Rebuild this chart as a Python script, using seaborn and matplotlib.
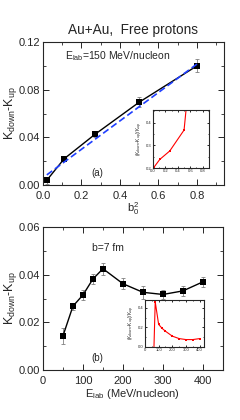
import numpy as np
import pandas as pd
import matplotlib
matplotlib.use("Agg")
import matplotlib.pyplot as plt
import seaborn as sns
from matplotlib.ticker import MultipleLocator, AutoMinorLocator, FormatStrFormatter

sns.set_style("ticks")
plt.rcParams['font.family'] = ['Liberation Sans', 'DejaVu Sans']
plt.rcParams['mathtext.default'] = 'regular'

# -------------------------------
# Data
# -------------------------------
# panel (a): kappa difference vs reduced impact parameter squared
b0sq = [0.02, 0.11, 0.27, 0.50, 0.80]
dk_a = [0.0040, 0.0220, 0.0425, 0.0695, 0.1000]
err_a = [0.0030, 0.0020, 0.0020, 0.0040, 0.0055]
fit_x = [0.02, 0.80]
fit_y = [0.0085, 0.1015]
# inset (a): relative difference
ratio_a = [0.205, 0.238, 0.275, 0.367, 1.20]

# panel (b): kappa difference vs beam energy at b = 7 fm
elab = [50, 75, 100, 125, 150, 200, 250, 300, 350, 400]
dk_b = [0.0143, 0.0268, 0.0315, 0.0382, 0.0425, 0.0362, 0.0326, 0.0317, 0.0332, 0.0370]
err_b = [0.0035, 0.0015, 0.0020, 0.0020, 0.0025, 0.0022, 0.0028, 0.0020, 0.0022, 0.0020]
# inset (b)
ratio_b = [-0.80, 0.46, 0.23, 0.19, 0.16, 0.11, 0.085, 0.075, 0.075, 0.085]

df_a = pd.DataFrame({"b": b0sq, "dk": dk_a, "err": err_a, "ratio": ratio_a})
df_b = pd.DataFrame({"E": elab, "dk": dk_b, "err": err_b, "ratio": ratio_b})


def style_axis(ax, size=8, major=4, minor=2, pad=2, xpad=4):
    ax.tick_params(which="both", direction="in", top=True, right=True, labelsize=size)
    ax.tick_params(axis="y", pad=pad)
    ax.tick_params(axis="x", pad=xpad)
    ax.tick_params(which="major", length=major, width=0.7)
    ax.tick_params(which="minor", length=minor, width=0.6)
    ax.xaxis.set_minor_locator(AutoMinorLocator(2))
    ax.yaxis.set_minor_locator(AutoMinorLocator(2))
    for s in ax.spines.values():
        s.set_linewidth(0.8)


fig = plt.figure(figsize=(2.4, 4.2), dpi=100)

# -------------------------------
# Panel (a)
# -------------------------------
ax1 = fig.add_axes([0.179, 0.5595, 0.754, 0.3405])
ax1.errorbar(df_a["b"], df_a["dk"], yerr=df_a["err"], fmt="none",
             ecolor="gray", elinewidth=0.6, capsize=1.5, capthick=0.6)
sns.lineplot(data=df_a, x="b", y="dk", ax=ax1, color="black", lw=1.0,
             marker="s", markersize=4, markeredgewidth=0)
ax1.plot(fit_x, fit_y, color="#1f3fff", ls=(0, (4, 2)), lw=1.2)
ax1.set_xlim(0, 0.94)
ax1.set_ylim(0, 0.12)
ax1.xaxis.set_major_locator(MultipleLocator(0.2))
ax1.yaxis.set_major_locator(MultipleLocator(0.04))
ax1.xaxis.set_major_formatter(FormatStrFormatter("%.1f"))
ax1.yaxis.set_major_formatter(FormatStrFormatter("%.2f"))
style_axis(ax1)
ax1.set_xlabel(r"b$_0^2$", fontsize=8, labelpad=0)
ax1.set_ylabel(r"K$_{down}$-K$_{up}$", fontsize=9)
ax1.yaxis.set_label_coords(-0.135, 0.5)
ax1.set_title("Au+Au,  Free protons", fontsize=9.8, pad=6)
ax1.text(0.12, 0.88, r"E$_{lab}$=150 MeV/nucleon", transform=ax1.transAxes, fontsize=7.5)
ax1.text(0.27, 0.06, "(a)", transform=ax1.transAxes, fontsize=7)

# inset (a)
in1 = fig.add_axes([0.6375, 0.6, 0.233, 0.138])
sns.lineplot(data=df_a, x="b", y="ratio", ax=in1, color="red", lw=0.8,
             marker="s", markersize=1.5, markeredgewidth=0)
in1.set_xlim(0, 0.9)
in1.set_ylim(0.2, 0.455)
in1.xaxis.set_major_locator(MultipleLocator(0.2))
in1.yaxis.set_major_locator(MultipleLocator(0.1))
in1.xaxis.set_major_formatter(FormatStrFormatter("%.1f"))
in1.yaxis.set_major_formatter(FormatStrFormatter("%.1f"))
style_axis(in1, size=3, major=1.5, minor=0.8, pad=1, xpad=1)
in1.set_xlabel("")
in1.set_ylabel(r"(K$_{down}$-K$_{up}$)/K$_{up}$", fontsize=3.5, labelpad=1)

# -------------------------------
# Panel (b)
# -------------------------------
ax2 = fig.add_axes([0.179, 0.119, 0.75, 0.3405])
ax2.errorbar(df_b["E"], df_b["dk"], yerr=df_b["err"], fmt="none",
             ecolor="gray", elinewidth=0.6, capsize=1.5, capthick=0.6)
sns.lineplot(data=df_b, x="E", y="dk", ax=ax2, color="black", lw=1.0,
             marker="s", markersize=4, markeredgewidth=0)
ax2.set_xlim(0, 450)
ax2.set_ylim(0, 0.06)
ax2.xaxis.set_major_locator(MultipleLocator(100))
ax2.yaxis.set_major_locator(MultipleLocator(0.02))
ax2.yaxis.set_major_formatter(FormatStrFormatter("%.2f"))
style_axis(ax2)
ax2.set_xlabel(r"E$_{lab}$ (MeV/nucleon)", fontsize=8, labelpad=1)
ax2.set_ylabel(r"K$_{down}$-K$_{up}$", fontsize=9)
ax2.yaxis.set_label_coords(-0.135, 0.5)
ax2.text(0.27, 0.83, "b=7 fm", transform=ax2.transAxes, fontsize=7.5)
ax2.text(0.27, 0.06, "(b)", transform=ax2.transAxes, fontsize=7)

# inset (b)
in2 = fig.add_axes([0.604, 0.174, 0.245, 0.112])
sns.lineplot(data=df_b, x="E", y="ratio", ax=in2, color="red", lw=0.8,
             marker="s", markersize=1.5, markeredgewidth=0)
in2.set_xlim(0, 430)
in2.set_ylim(0, 0.48)
in2.xaxis.set_major_locator(MultipleLocator(100))
in2.yaxis.set_major_locator(MultipleLocator(0.2))
in2.yaxis.set_major_formatter(FormatStrFormatter("%.1f"))
style_axis(in2, size=3, major=1.5, minor=0.8, pad=1, xpad=1)
in2.set_xlabel("")
in2.set_ylabel(r"(K$_{down}$-K$_{up}$)/K$_{up}$", fontsize=3.5, labelpad=1)

fig.savefig("out.png", dpi=100)
